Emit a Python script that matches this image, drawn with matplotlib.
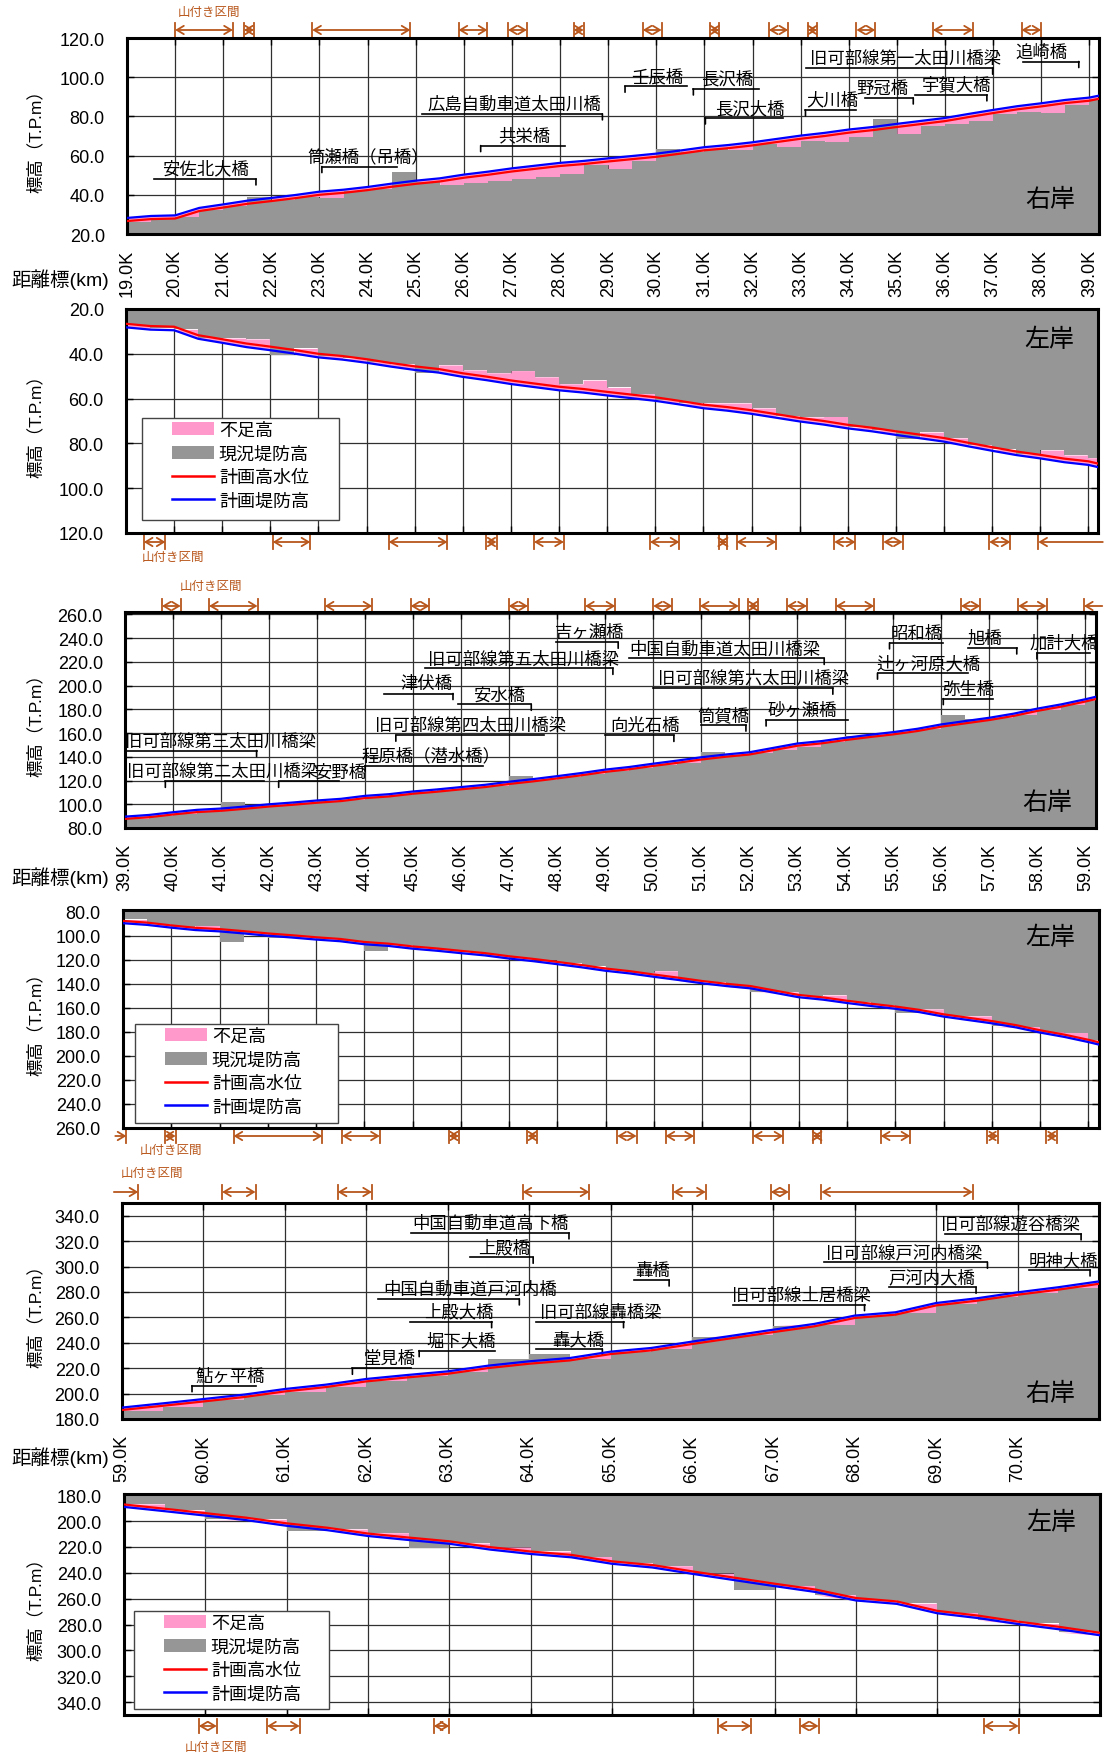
import numpy as np
import matplotlib
matplotlib.use("Agg")
import matplotlib.pyplot as plt
from matplotlib.patches import Patch, Rectangle
from matplotlib.lines import Line2D
from matplotlib.ticker import FormatStrFormatter

plt.rcParams['font.family'] = ['Liberation Sans', 'Noto Sans CJK JP']

# ---------------------------------------------------------------- data
# section A : 19.0K - 39.2K
km_a = np.append(np.arange(19.0, 39.01, 0.5), 39.2)
plan_a = [28.2, 29.2, 29.5, 33.3, 35.1, 37.0, 38.4, 39.9, 41.6, 42.6,
          44.0, 45.7, 47.2, 48.4, 50.3, 51.8, 53.5, 54.9, 56.3, 57.3,
          58.6, 59.8, 61.0, 62.6, 64.3, 65.4, 66.8, 68.5, 70.2, 71.6,
          73.3, 74.6, 76.2, 77.7, 79.2, 81.3, 83.3, 85.2, 86.7, 88.4,
          89.6, 90.6]
hwl_a = [26.6, 27.6, 27.9, 31.7, 33.5, 35.4, 36.8, 38.3, 40.0, 41.0,
         42.4, 44.1, 45.6, 46.8, 48.7, 50.2, 51.9, 53.3, 54.7, 55.7,
         57.0, 58.2, 59.4, 61.0, 62.7, 63.8, 65.2, 66.9, 68.6, 70.0,
         71.7, 73.0, 74.6, 76.1, 77.6, 79.7, 81.7, 83.6, 85.1, 86.8,
         88.0, 89.0]
right_a = [26.0, 28.4, 28.7, 32.4, 34.2, 38.9, 37.6, 39.1, 38.4, 41.8,
           43.2, 51.5, 46.4, 45.0, 46.0, 47.0, 48.2, 49.3, 50.6, 55.4,
           53.3, 57.5, 63.2, 61.8, 63.5, 63.0, 66.0, 64.6, 67.7, 67.0,
           69.5, 78.7, 71.0, 75.3, 76.2, 77.4, 81.3, 82.0, 81.5, 85.9,
           89.0, 89.6]
left_a = [27.0, 28.6, 29.1, 32.8, 33.0, 33.4, 40.5, 37.6, 40.8, 42.0,
          43.5, 44.6, 48.5, 45.0, 47.2, 48.5, 47.5, 50.3, 53.4, 51.8,
          55.0, 57.8, 60.5, 62.0, 62.0, 62.0, 64.2, 67.8, 68.2, 68.0,
          72.7, 74.0, 77.9, 75.0, 77.6, 80.7, 82.7, 84.6, 83.0, 85.2,
          86.4, 87.0]

# section B : 39.0K - 59.2K
km_b = np.append(np.arange(39.0, 59.01, 0.5), 59.22)
plan_b = [89.6, 91.0, 93.3, 95.3, 96.4, 98.1, 100.0, 101.5, 103.2, 104.6,
          107.1, 108.5, 110.8, 112.5, 114.5, 116.4, 119.0, 121.2, 123.7, 126.3,
          129.2, 131.4, 134.2, 136.8, 139.6, 141.9, 143.8, 147.5, 151.2, 153.2,
          156.0, 158.5, 160.8, 163.6, 167.3, 170.1, 172.9, 176.3, 180.6, 184.2,
          188.5, 190.6]
hwl_b = [87.7, 89.1, 91.4, 93.4, 94.5, 96.2, 98.1, 99.6, 101.3, 102.7,
         105.2, 106.6, 108.9, 110.6, 112.6, 114.5, 117.1, 119.3, 121.8, 124.4,
         127.3, 129.5, 132.3, 134.9, 137.7, 140.0, 141.9, 145.6, 149.3, 151.3,
         154.1, 156.6, 158.9, 161.7, 165.4, 168.2, 171.0, 174.4, 178.7, 182.3,
         186.6, 188.7]
right_b = [88.0, 89.8, 92.0, 93.5, 102.3, 99.0, 99.3, 100.8, 102.5, 104.0,
           106.4, 107.8, 110.0, 111.8, 113.8, 115.6, 123.5, 120.5, 123.0, 125.6,
           127.7, 130.7, 133.5, 134.8, 144.4, 141.2, 143.0, 145.5, 148.4, 152.5,
           157.5, 158.0, 160.5, 163.0, 175.5, 171.5, 172.5, 175.6, 179.8, 183.5,
           187.0, 189.5]
left_b = [86.5, 90.3, 92.6, 91.5, 105.0, 97.5, 102.2, 100.8, 102.5, 104.0,
          112.5, 107.8, 110.1, 111.8, 113.8, 115.7, 118.3, 120.5, 123.0, 125.6,
          128.5, 130.7, 129.2, 137.5, 138.9, 142.5, 147.0, 146.8, 150.5, 149.4,
          155.3, 157.8, 164.0, 161.0, 166.5, 166.7, 175.5, 175.6, 179.9, 180.6,
          186.7, 188.0]

# section C : 59.0K - 71.0K
km_c = np.arange(59.0, 71.01, 0.5)
plan_c = [189.0, 192.3, 195.7, 199.2, 203.6, 207.0, 211.5, 214.6, 217.5, 222.0,
          225.4, 228.0, 233.0, 235.9, 240.9, 245.6, 250.3, 254.8, 261.4, 264.0,
          271.3, 275.0, 279.7, 283.7, 288.3]
hwl_c = [187.1, 190.4, 193.8, 197.3, 201.7, 205.1, 209.6, 212.7, 215.6, 220.1,
         223.5, 226.1, 231.1, 234.0, 239.0, 243.7, 248.4, 252.9, 259.5, 262.1,
         269.4, 273.1, 277.8, 281.8, 286.4]
right_c = [186.6, 189.5, 195.0, 198.5, 201.5, 205.5, 209.8, 213.5, 216.8, 227.2,
           231.0, 227.5, 232.5, 235.2, 244.3, 246.4, 253.5, 254.3, 260.8, 263.4,
           270.6, 275.8, 279.0, 283.0, 287.5]
left_c = [186.7, 191.6, 198.7, 198.6, 208.0, 206.2, 209.0, 220.5, 217.0, 220.0,
          223.3, 227.4, 232.4, 234.5, 240.3, 253.0, 249.8, 257.0, 260.9, 263.6,
          270.7, 276.5, 279.2, 285.9, 287.0]

# 山付き区間 (from km, to km)
yama_a_r = [(20.0, 21.2), (21.43, 21.64), (22.85, 24.89), (25.89, 26.49), (26.92, 27.31),
            (28.28, 28.49), (29.72, 30.11), (31.12, 31.31), (32.34, 32.74), (33.15, 33.34),
            (34.16, 34.55), (35.75, 36.58), (37.59, 38.0)]
yama_a_l = [(19.37, 19.82), (22.05, 22.83), (24.46, 25.68), (26.49, 26.70), (27.48, 28.10),
            (29.89, 30.5), (31.32, 31.49), (31.69, 32.51), (33.72, 34.16), (34.74, 35.14),
            (36.94, 37.38), (37.96, 39.3)]
yama_b_r = [(39.77, 40.16), (40.75, 41.76), (43.16, 44.15), (44.95, 45.34), (46.99, 47.39),
            (48.58, 49.21), (50.0, 50.4), (50.97, 51.78), (51.98, 52.18), (52.78, 53.2),
            (53.8, 54.6), (56.41, 56.81), (57.6, 58.19), (58.97, 59.35)]
yama_b_l = [(38.84, 39.07), (39.86, 40.09), (41.29, 43.13), (43.54, 44.32), (45.75, 45.96),
            (47.38, 47.58), (49.24, 49.64), (50.24, 50.83), (52.05, 52.68), (53.29, 53.47),
            (54.7, 55.31), (56.9, 57.13), (58.13, 58.35)]
yama_c_r = [(58.9, 59.2), (60.23, 60.64), (61.65, 62.07), (63.92, 64.74), (65.77, 66.17),
            (66.97, 67.19), (67.59, 69.45)]
yama_c_l = [(59.92, 60.14), (60.76, 61.16), (62.81, 63.0), (66.3, 66.71), (67.31, 67.54),
            (69.57, 70.0)]

# bridges: (name, text km, line from km, line to km, line elevation, bridge km)
bridges_a = [
    ("安佐北大橋", 20.64, 19.56, 21.68, 48.1, 21.68),
    ("筒瀬橋（吊橋）", 24.02, 23.05, 24.61, 54.4, 23.05),
    ("広島自動車道太田川橋", 27.06, 25.13, 28.88, 81.3, 28.88),
    ("共栄橋", 27.25, 26.35, 28.1, 65.1, 26.35),
    ("壬辰橋", 30.01, 29.35, 30.63, 95.4, 29.35),
    ("長沢橋", 31.48, 30.77, 32.14, 94.0, 30.77),
    ("長沢大橋", 31.94, 31.02, 32.63, 79.2, 31.02),
    ("旧可部線第一太田川橋梁", 35.19, 33.11, 36.99, 104.6, 36.99),
    ("大川橋", 33.66, 33.10, 34.16, 83.3, 33.10),
    ("野冠橋", 34.70, 34.33, 35.34, 89.4, 35.34),
    ("宇賀大橋", 36.23, 35.37, 36.87, 91.0, 36.87),
    ("追崎橋", 38.00, 37.63, 38.78, 108.0, 38.78),
]
bridges_b = [
    ("旧可部線第三太田川橋梁", 41.0, 39.0, 41.74, 145.3, 41.74),
    ("旧可部線第二太田川橋梁", 41.03, 39.84, 41.9, 119.3, 39.84),
    ("安野橋", 43.48, 42.2, 43.45, 119.3, 42.2),
    ("津伏橋", 45.27, 44.4, 45.83, 193.3, 45.83),
    ("安水橋", 46.79, 45.94, 47.46, 184.2, 47.46),
    ("旧可部線第四太田川橋梁", 46.2, 44.64, 47.73, 158.2, 44.64),
    ("程原橋（潜水橋）", 45.38, 44.0, 46.46, 132.5, 44.0),
    ("旧可部線第五太田川橋梁", 47.3, 45.25, 49.16, 214.5, 49.16),
    ("吉ヶ瀬橋", 48.67, 47.98, 49.27, 236.5, 49.27),
    ("中国自動車道太田川橋梁", 51.5, 49.5, 53.56, 222.9, 53.56),
    ("旧可部線第六太田川橋梁", 52.08, 50.0, 53.74, 197.8, 53.74),
    ("向光石橋", 49.83, 48.99, 50.43, 158.0, 50.43),
    ("筒賀橋", 51.46, 51.0, 51.93, 166.7, 51.93),
    ("砂ヶ瀬橋", 53.1, 52.35, 54.06, 171.0, 52.35),
    ("昭和橋", 55.48, 54.92, 56.04, 236.0, 54.92),
    ("辻ヶ河原大橋", 55.74, 54.67, 56.56, 210.5, 54.67),
    ("旭橋", 56.9, 56.55, 57.57, 231.7, 57.57),
    ("加計大橋", 58.55, 57.99, 59.09, 227.5, 57.99),
    ("弥生橋", 56.56, 56.04, 57.07, 189.0, 56.04),
]
bridges_c = [
    ("鮎ヶ平橋", 60.33, 59.86, 60.64, 206.2, 59.86),
    ("堂見橋", 62.29, 61.83, 62.55, 219.9, 61.83),
    ("堀下大橋", 63.17, 62.65, 63.58, 233.8, 62.65),
    ("上殿大橋", 63.14, 62.54, 63.54, 256.6, 63.54),
    ("中国自動車道戸河内橋", 63.28, 62.14, 63.88, 274.5, 63.88),
    ("上殿橋", 63.69, 63.27, 64.05, 307.3, 64.05),
    ("中国自動車道高下橋", 63.53, 62.55, 64.49, 326.5, 64.49),
    ("旧可部線轟橋梁", 64.88, 64.09, 65.16, 256.6, 65.16),
    ("轟大橋", 64.61, 64.09, 64.9, 235.1, 64.9),
    ("轟橋", 65.52, 65.29, 65.72, 289.4, 65.72),
    ("旧可部線土居橋梁", 67.35, 66.51, 68.12, 270.0, 68.12),
    ("旧可部線遊谷橋梁", 69.91, 69.11, 70.78, 325.7, 70.78),
    ("旧可部線戸河内橋梁", 68.61, 67.62, 69.63, 303.4, 69.63),
    ("戸河内大橋", 68.95, 68.42, 69.49, 283.7, 69.49),
    ("明神大橋", 70.56, 70.14, 70.89, 297.3, 70.89),
]

legend_labels = ['不足高', '現況堤防高', '計画高水位', '計画堤防高']

PINK = '#FF99CC'
GRAY = '#969696'
BROWN = '#B8561B'

W, H = 1104, 1758
fig = plt.figure(figsize=(W / 100, H / 100), dpi=100)


def px_axes(l, t, r, b):
    return fig.add_axes([l / W, 1 - b / H, (r - l) / W, (b - t) / H])


def profile(ax, km, plan, hwl, levee, xlim, ylim, yticks, right_bank):
    km = np.asarray(km)
    plan = np.asarray(plan)
    levee = np.asarray(levee)
    # current levee is a step per interval, plan is a line
    xs = np.repeat(km, 2)[1:-1]
    cs = np.repeat(levee[:-1], 2)
    ps = np.repeat(plan, 2)[1:-1]
    ax.fill_between(xs, cs, np.maximum(cs, ps), color=PINK, lw=0, zorder=2)
    ax.fill_between(xs, 0, cs, color=GRAY, lw=0, zorder=2)
    ax.plot(km, hwl, color='red', lw=1.6, zorder=4)
    ax.plot(km, plan, color='blue', lw=1.6, zorder=4)

    ax.set_xlim(xlim)
    ax.set_ylim(ylim)
    xt = np.arange(int(xlim[0]), int(xlim[1] - 0.01) + 1)
    ax.set_xticks(xt)
    ax.set_yticks(yticks)
    for k in xt[1:]:
        ax.axvline(k, color='#303030', lw=0.9, zorder=1)
    for y in yticks:
        ax.axhline(y, color='#303030', lw=0.9, zorder=1)
    ax.yaxis.set_major_formatter(FormatStrFormatter('%.1f'))
    ax.tick_params(direction='in', length=5, width=1.0, top=True, right=True,
                   labelsize=13)
    ax.tick_params(axis='y', pad=16)
    if right_bank:
        ax.set_xticklabels([f'{k:.1f}K' for k in xt], rotation=90, va='top')
        ax.tick_params(axis='x', pad=11)
    else:
        ax.tick_params(labelbottom=False)
    for s in ax.spines.values():
        s.set_linewidth(2.2)


def yamatsuki(ax, spans, top, arrow_px, label_km, label_px):
    tr = ax.get_xaxis_transform()
    hpx = ax.bbox.height
    lo, hi = ax.get_xlim()
    base, sgn = (1.0, 1) if top else (0.0, -1)
    ya = base + sgn * arrow_px / hpx
    for x0, x1 in spans:
        lopen, ropen = x0 < lo, x1 > hi
        style = '->' if lopen else ('<-' if ropen else '<->')
        ax.annotate('', xy=(x1, ya), xycoords=tr, xytext=(x0, ya), textcoords=tr,
                    arrowprops=dict(arrowstyle=style + ', head_length=0.5, head_width=0.3',
                                    color=BROWN, lw=1.3, shrinkA=0, shrinkB=0,
                                    mutation_scale=10),
                    annotation_clip=False)
        for x, op in ((x0, lopen), (x1, ropen)):
            if not op:
                ax.plot([x, x], [ya - 7 / hpx, ya + 7 / hpx], transform=tr,
                        color=BROWN, lw=1.3, clip_on=False)
    ax.text(label_km, base + sgn * label_px / hpx, '山付き区間', transform=tr,
            ha='center', va='center', color=BROWN, fontsize=9, clip_on=False)


def bridges(ax, items):
    for name, tx, x0, x1, y, xb in items:
        ax.plot([x0, x1], [y, y], color='k', lw=1.2, zorder=5, clip_on=False)
        ax.annotate('', xy=(xb, y), xytext=(0, -6), textcoords='offset pixels',
                    arrowprops=dict(arrowstyle='-', color='k', lw=1.2, shrinkA=0, shrinkB=0),
                    annotation_clip=False)
        ax.annotate(name, xy=(tx, y), xytext=(0, 1.5), textcoords='offset points',
                    ha='center', va='bottom', fontsize=12.5, zorder=5,
                    annotation_clip=False)


def legend_box(ax, l, t, r, b):
    ax.add_patch(Rectangle((l / W, 1 - b / H), (r - l) / W, (b - t) / H,
                           transform=fig.transFigure, facecolor='white',
                           edgecolor='#444444', lw=1.0, zorder=6, clip_on=False))
    handles = [Patch(facecolor=PINK, edgecolor='none'),
               Patch(facecolor=GRAY, edgecolor='none'),
               Line2D([], [], color='red', lw=1.8),
               Line2D([], [], color='blue', lw=1.8)]
    leg = ax.legend(handles, legend_labels, loc='upper left',
                    bbox_to_anchor=((l + 30) / W, 1 - (t + 4) / H),
                    bbox_transform=fig.transFigure, frameon=False, fontsize=13,
                    handlelength=2.3, handleheight=0.7, handletextpad=0.3,
                    labelspacing=0.36, borderpad=0, borderaxespad=0)
    leg.set_zorder(7)


def side_texts(ax, t, b, label_y_frac, bank, axis_title_y=None):
    fig.text(35 / W, 1 - (t + b) / 2 / H, '標高（T.P.m）', rotation=90,
             ha='center', va='center', fontsize=12.5)
    ax.text(0.95, label_y_frac, bank, transform=ax.transAxes, ha='center',
            va='center', fontsize=18, zorder=5)
    if axis_title_y is not None:
        fig.text(11 / W, 1 - axis_title_y / H, '距離標(km)', ha='left',
                 va='center', fontsize=14)


# ---------------------------------------------------------------- panels
ax1 = px_axes(127, 39, 1099, 235)
profile(ax1, km_a, plan_a, hwl_a, right_a, (19.0, 39.2), (20, 120), np.arange(20, 121, 20), True)
bridges(ax1, bridges_a)
yamatsuki(ax1, yama_a_r, True, 8, 20.7, 26)
side_texts(ax1, 39, 235, 0.18, '右岸', 280)

ax2 = px_axes(126, 310, 1098, 534)
profile(ax2, km_a, plan_a, hwl_a, left_a, (19.0, 39.2), (120, 20), np.arange(20, 121, 20), False)
yamatsuki(ax2, yama_a_l, False, 9, 19.97, 24)
legend_box(ax2, 142, 419, 339, 521)
side_texts(ax2, 310, 534, 0.866, '左岸')

ax3 = px_axes(125, 613, 1096, 829)
profile(ax3, km_b, plan_b, hwl_b, right_b, (39.0, 59.22), (80, 262), np.arange(80, 261, 20), True)
bridges(ax3, bridges_b)
yamatsuki(ax3, yama_b_r, True, 6, 40.8, 26)
side_texts(ax3, 613, 829, 0.12, '右岸', 878)

ax4 = px_axes(123, 911, 1099, 1129)
profile(ax4, km_b, plan_b, hwl_b, left_b, (39.0, 59.22), (260, 78.6), np.arange(80, 261, 20), False)
yamatsuki(ax4, yama_b_l, False, 8, 40.0, 22)
legend_box(ax4, 135, 1025, 338, 1124)
side_texts(ax4, 911, 1129, 0.876, '左岸')

ax5 = px_axes(122, 1204, 1099, 1420)
profile(ax5, km_c, plan_c, hwl_c, right_c, (59.0, 71.0), (180, 350), np.arange(180, 341, 20), True)
bridges(ax5, bridges_c)
yamatsuki(ax5, yama_c_r, True, 11, 59.37, 30)
side_texts(ax5, 1204, 1420, 0.12, '右岸', 1458)

ax6 = px_axes(124, 1495, 1100, 1716)
profile(ax6, km_c, plan_c, hwl_c, left_c, (59.0, 71.0), (350, 179), np.arange(180, 341, 20), False)
yamatsuki(ax6, yama_c_l, False, 11, 60.13, 32)
legend_box(ax6, 134, 1612, 329, 1710)
side_texts(ax6, 1495, 1716, 0.873, '左岸')

fig.savefig('out.png', dpi=100)
